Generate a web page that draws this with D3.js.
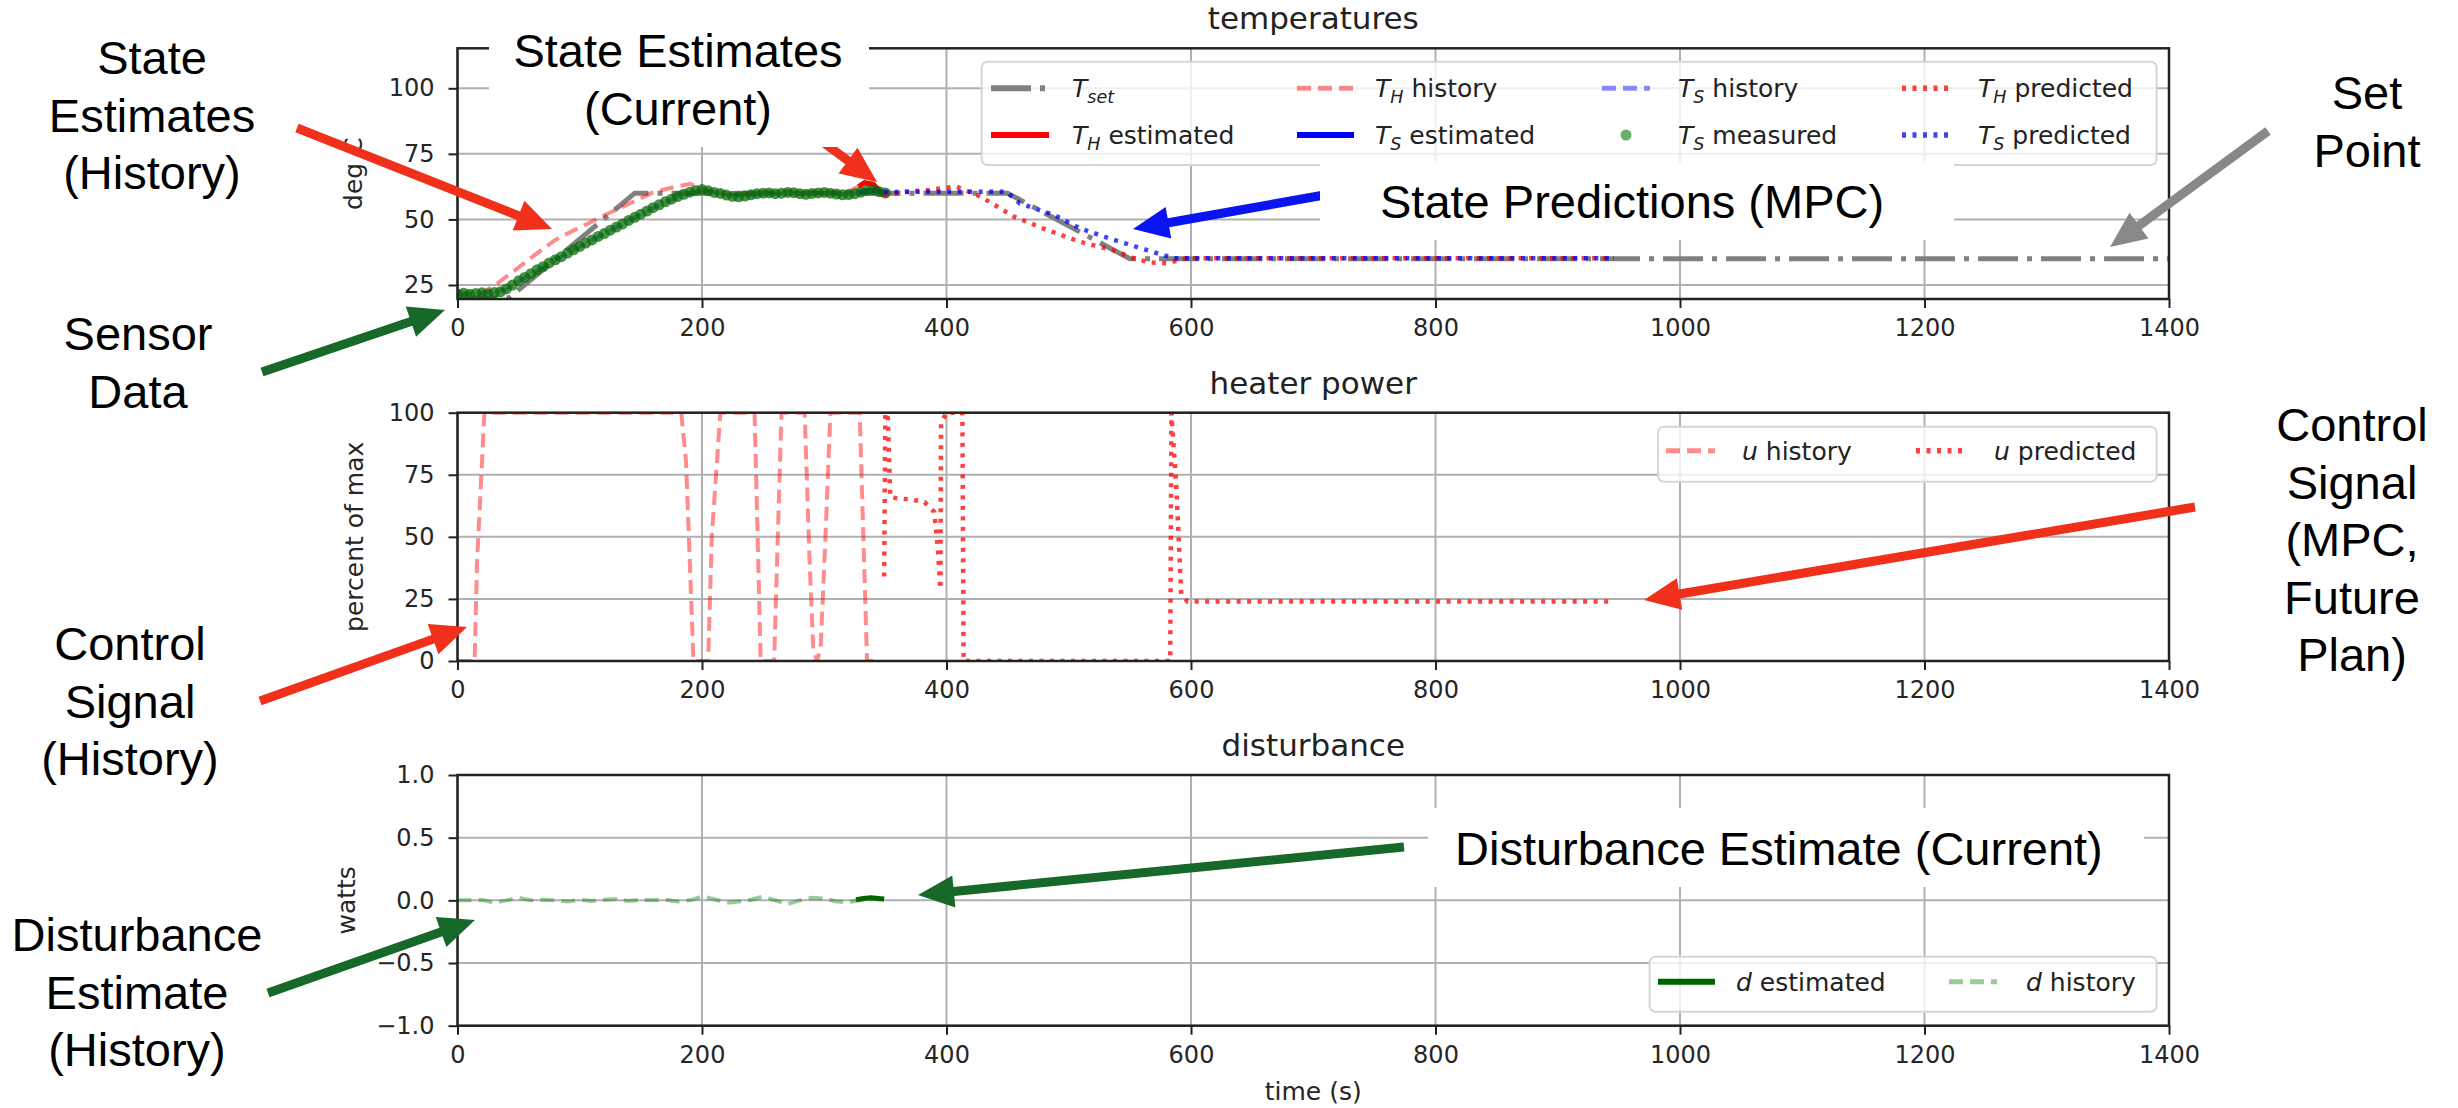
<!DOCTYPE html>
<html>
<head>
<meta charset="utf-8">
<script src="https://cdn.jsdelivr.net/npm/d3@7"></script>
<style>
body { margin: 0; background: #fff; }
svg text { white-space: pre; }
</style>
</head>
<body>
<div id="chart"></div>
<script>
// ---- data ----

var timeTicks = [0, 200, 400, 600, 800, 1000, 1200, 1400]
var tempTicks = [25, 50, 75, 100]
var powerTicks = [0, 25, 50, 75, 100]
var distTicks = [-1, -0.5, 0, 0.5, 1]

// temperatures
var tsetTime = [0, 42, 145, 450, 550, 1400]
var tsetVal  = [20, 20, 60, 60, 35, 35]

var thHistTime = [0, 10, 20, 30, 40, 50, 60, 70, 80, 90, 100, 110, 120, 130, 140, 150, 160, 170,
                  180, 190, 200, 210, 220, 230, 240, 250, 260, 270, 280, 290, 300, 310, 320, 328]
var thHistVal  = [21.5, 21.6, 22.0, 24.7, 28.2, 31.7, 35.3, 38.8, 42.2, 44.6, 46.9, 49.2, 51.6, 53.7, 55.9, 58.1, 60.3, 61.5,
                  62.6, 63.6, 61.8, 60.5, 59.8, 59.2, 59.8, 60.6, 60.2, 60.8, 60.1, 60.4, 60.8, 60.2, 60.6, 62.5]

var tsHistTime = [0, 20, 40, 60, 80, 100, 120, 140, 160, 180, 200, 220, 240, 260, 280, 300, 320, 340]
var tsHistVal  = [21.7, 21.8, 23.3, 29.2, 34.5, 39.6, 44.6, 49.5, 54.4, 58.6, 61.2, 59.3, 59.4, 59.9, 59.9, 60.2, 59.6, 61.0]

var thEstTime = [328, 333, 340, 345, 349]
var thEstVal  = [62.5, 64.0, 63.5, 61.0, 59.0]

var tsEstTime = [328, 335, 342, 349]
var tsEstVal  = [60.2, 60.9, 61.0, 60.4]

var tsMeasTime = [0, 5, 10, 15, 20, 25, 30, 35, 40, 45, 50, 55, 60, 65, 70, 75, 80, 85, 90, 95,
                  100, 105, 110, 115, 120, 125, 130, 135, 140, 145, 150, 155, 160, 165, 170, 175,
                  180, 185, 190, 195, 200, 205, 210, 215, 220, 225, 230, 235, 240, 245, 250, 255,
                  260, 265, 270, 275, 280, 285, 290, 295, 300, 305, 310, 315, 320, 325, 330, 335,
                  340, 345, 350]
var tsMeasVal  = [21.6, 21.9, 21.5, 21.8, 22.0, 21.7, 22.1, 22.4, 23.5, 25.0, 26.6, 27.9, 29.3, 30.8, 32.0, 33.4,
                  34.6, 35.8, 37.2, 38.4, 39.7, 41.0, 42.2, 43.5, 44.6, 45.9, 47.1, 48.3, 49.6, 50.8, 52.0, 53.2,
                  54.5, 55.6, 56.7, 57.7, 58.7, 59.6, 60.4, 61.0, 61.4, 60.9, 60.3, 59.9, 59.3, 58.8, 58.6, 58.9,
                  59.4, 59.8, 60.0, 60.1, 59.8, 60.0, 60.3, 60.2, 59.8, 59.6, 59.9, 60.1, 60.3, 60.0, 59.7, 59.4,
                  59.5, 59.8, 60.4, 61.0, 61.2, 60.6, 60.1]

var thPredTime = [349, 365, 385, 408, 428, 455, 482, 509, 536, 553, 566, 580, 596, 946]
var thPredVal  = [59.0, 60.5, 61.2, 62.5, 58.7, 51.1, 46.0, 41.5, 38.3, 35.2, 33.6, 33.3, 35.2, 35.2]

var tsPredTime = [349, 390, 449, 460, 488, 509, 537, 564, 586, 946]
var tsPredVal  = [60.4, 60.6, 60.6, 56.1, 51.7, 46.6, 42.2, 38.3, 35.2, 35.2]

// heater power
var uHistTime = [0, 14, 16, 22, 183, 187, 190, 193, 205, 208, 215, 243, 248, 259, 262, 265,
                 284, 288, 291, 294, 297, 301, 305, 329, 335, 345]
var uHistVal  = [0, 0, 40, 100, 100, 80, 40, 0, 0, 50, 100, 100, 0, 0, 50, 100,
                 100, 40, 5, 0, 5, 50, 100, 100, 0, 0]

var uPredTime = [349, 350, 352, 354, 360, 372, 382, 390, 393, 395, 395.5, 400, 413, 414,
                 583, 584, 588, 592, 597, 945]
var uPredVal  = [34, 100, 98, 66, 65.5, 65, 64, 60, 45, 29, 96, 100, 100, 0,
                 0, 100, 70, 27, 24, 24]

// disturbance
var dHistTime = [0, 10, 20, 30, 40, 50, 60, 70, 80, 90, 100, 110, 120, 130, 140, 150, 160, 170,
                 180, 190, 200, 210, 220, 230, 240, 250, 260, 270, 280, 290, 300, 310, 320, 330, 340]
var dHistVal  = [0, 0, 0.005, -0.02, 0, 0.02, 0, 0.005, 0, -0.01, 0.005, -0.005, 0.005, 0.01, -0.005, 0.005, 0, 0.005,
                 -0.01, 0, 0.03, 0.01, -0.02, -0.01, 0.005, 0.03, 0, -0.03, 0, 0.02, 0.015, -0.01, -0.015, 0.005, 0.01]

var dEstTime = [326, 332, 338, 344, 349]
var dEstVal  = [0.005, 0.015, 0.02, 0.015, 0.01]

// ---- layout ----

var W = 2458, H = 1108
var tickFont = 24
var legendFont = 25

var x = d3.scaleLinear().domain([0, 1400]).range([457.5, 2169])

var panels = [
  {top: 48.3, bottom: 299, domain: [19.66, 115.25], ticks: tempTicks, fmt: d3.format("d"),
   title: "temperatures", ylabel: "deg C", ylabelX: 362},
  {top: 412.7, bottom: 661, domain: [0, 100], ticks: powerTicks, fmt: d3.format("d"),
   title: "heater power", ylabel: "percent of max", ylabelX: 363},
  {top: 775, bottom: 1025.7, domain: [-1, 1], ticks: distTicks, fmt: d3.format(".1f"),
   title: "disturbance", ylabel: "watts", ylabelX: 355}
]

var styles = {
  tset:   {stroke: "#808080", width: 5, dash: "40,9,5,9", opacity: 1},
  thHist: {stroke: "#ff0000", width: 4, dash: "14,7", opacity: 0.45},
  tsHist: {stroke: "#0000ff", width: 4, dash: "14,7", opacity: 0.45},
  thEst:  {stroke: "#ff0000", width: 5, dash: null, opacity: 1},
  tsEst:  {stroke: "#0000ff", width: 5, dash: null, opacity: 1},
  thPred: {stroke: "#ff0000", width: 4.5, dash: "4,6.5", opacity: 0.75},
  tsPred: {stroke: "#0000ff", width: 4.5, dash: "4,6.5", opacity: 0.75},
  uHist:  {stroke: "#ff0000", width: 4, dash: "14,7", opacity: 0.45},
  uPred:  {stroke: "#ff0000", width: 4.5, dash: "4,6.5", opacity: 0.75},
  dHist:  {stroke: "#008000", width: 4, dash: "14,7", opacity: 0.4},
  dEst:   {stroke: "#006400", width: 5, dash: null, opacity: 1}
}

var svg = d3.select("#chart")
  .append("svg")
    .attr("width", W)
    .attr("height", H)
    .attr("font-family", "'DejaVu Sans', sans-serif")

svg.append("rect").attr("width", W).attr("height", H).attr("fill", "#fff")

function drawPanel(p, i) {
  var y = d3.scaleLinear().domain(p.domain).range([p.bottom, p.top])
  var g = svg.append("g").attr("class", "panel" + i)

  g.append("clipPath").attr("id", "clip" + i)
    .append("rect")
      .attr("x", x.range()[0]).attr("y", p.top + 1)
      .attr("width", x.range()[1] - x.range()[0]).attr("height", p.bottom - p.top - 1)

  // grid
  g.selectAll(".vgrid").data(timeTicks).enter().append("line")
    .attr("x1", function(d) { return x(d) }).attr("x2", function(d) { return x(d) })
    .attr("y1", p.top).attr("y2", p.bottom)
    .attr("stroke", "#b0b0b0").attr("stroke-width", 2)
  g.selectAll(".hgrid").data(p.ticks).enter().append("line")
    .attr("x1", x.range()[0]).attr("x2", x.range()[1])
    .attr("y1", function(d) { return y(d) }).attr("y2", function(d) { return y(d) })
    .attr("stroke", "#b0b0b0").attr("stroke-width", 2)

  // axes
  var xAxis = d3.axisBottom(x).tickValues(timeTicks).tickSize(9).tickPadding(11).tickFormat(d3.format("d"))
  var yAxis = d3.axisLeft(y).tickValues(p.ticks).tickSize(9).tickPadding(14).tickFormat(p.fmt)

  var gx = g.append("g").attr("transform", "translate(0," + p.bottom + ")").call(xAxis)
  var gy = g.append("g").attr("transform", "translate(" + x.range()[0] + ",0)").call(yAxis)
  ;[gx, gy].forEach(function(a) {
    a.select(".domain").remove()
    a.attr("font-size", tickFont).attr("font-family", "'DejaVu Sans', sans-serif")
    a.selectAll(".tick line").attr("stroke", "#222").attr("stroke-width", 2)
    a.selectAll(".tick text").attr("fill", "#262626")
  })

  g.append("text")
    .attr("x", (x.range()[0] + x.range()[1]) / 2)
    .attr("y", p.top - 19)
    .attr("text-anchor", "middle")
    .attr("font-size", 31)
    .attr("fill", "#222")
    .text(p.title)

  g.append("text")
    .attr("transform", "translate(" + p.ylabelX + "," + (p.top + p.bottom) / 2 + ") rotate(-90)")
    .attr("text-anchor", "middle")
    .attr("font-size", 25)
    .attr("fill", "#262626")
    .text(p.ylabel)

  var plot = g.append("g").attr("clip-path", "url(#clip" + i + ")")
  return {g: g, plot: plot, y: y, p: p}
}

function drawLine(panel, times, vals, st) {
  var line = d3.line()
    .x(function(d) { return x(d[0]) })
    .y(function(d) { return panel.y(d[1]) })
  panel.plot.append("path")
    .datum(d3.zip(times, vals))
    .attr("d", line)
    .attr("fill", "none")
    .attr("stroke", st.stroke)
    .attr("stroke-width", st.width)
    .attr("stroke-opacity", st.opacity)
    .attr("stroke-dasharray", st.dash)
}

function drawFrame(panel) {
  panel.g.append("rect")
    .attr("x", x.range()[0]).attr("y", panel.p.top)
    .attr("width", x.range()[1] - x.range()[0]).attr("height", panel.p.bottom - panel.p.top)
    .attr("fill", "none").attr("stroke", "#222").attr("stroke-width", 2.5)
}

var P = panels.map(drawPanel)

// temperatures
drawLine(P[0], tsetTime, tsetVal, styles.tset)
drawLine(P[0], thEstTime, thEstVal, styles.thEst)
drawLine(P[0], thHistTime, thHistVal, styles.thHist)
drawLine(P[0], tsEstTime, tsEstVal, styles.tsEst)
drawLine(P[0], tsHistTime, tsHistVal, styles.tsHist)
P[0].plot.selectAll(".meas").data(d3.zip(tsMeasTime, tsMeasVal)).enter().append("circle")
  .attr("cx", function(d) { return x(d[0]) })
  .attr("cy", function(d) { return P[0].y(d[1]) })
  .attr("r", 5.5)
  .attr("fill", "#0a6e0a")
  .attr("fill-opacity", 0.75)
drawLine(P[0], thPredTime, thPredVal, styles.thPred)
drawLine(P[0], tsPredTime, tsPredVal, styles.tsPred)

// heater power
drawLine(P[1], uHistTime, uHistVal, styles.uHist)
drawLine(P[1], uPredTime, uPredVal, styles.uPred)

// disturbance
drawLine(P[2], dEstTime, dEstVal, styles.dEst)
drawLine(P[2], dHistTime, dHistVal, styles.dHist)

P.forEach(drawFrame)

svg.append("text")
  .attr("x", (x.range()[0] + x.range()[1]) / 2)
  .attr("y", 1100)
  .attr("text-anchor", "middle")
  .attr("font-size", 25)
  .attr("fill", "#262626")
  .text("time (s)")

// ---- legends ----

var tempLabels = ["$T_{set}$", "$T_H$ estimated", "$T_H$ history", "$T_S$ estimated",
                  "$T_S$ history", "$T_S$ measured", "$T_H$ predicted", "$T_S$ predicted"]
var tempKeys = ["tset", "thEst", "thHist", "tsEst", "tsHist", "marker", "thPred", "tsPred"]
var powerLabels = ["$u$ history", "$u$ predicted"]
var powerKeys = ["uHist", "uPred"]
var distLabels = ["$d$ estimated", "$d$ history"]
var distKeys = ["dEst", "dHist"]

var legends = [
  {box: [981.6, 61.7, 1175, 103.3], rows: [88.3, 135],
   handles: [[991, 1049], [1297, 1354], [1602, 1650], [1902, 1949]],
   textX: [1072, 1375, 1678, 1978], labels: tempLabels, keys: tempKeys},
  {box: [1658, 426.7, 498.6, 55], rows: [450.7],
   handles: [[1666, 1715], [1916, 1965]], textX: [1742, 1994], labels: powerLabels, keys: powerKeys},
  {box: [1649.6, 956.7, 507, 55], rows: [981.7],
   handles: [[1658, 1715], [1949, 1997]], textX: [1736, 2026], labels: distLabels, keys: distKeys}
]

function addLabel(sel, label) {
  var m = label.match(/^\$(\w)(?:_\{?(\w+)\}?)?\$(.*)$/)
  sel.append("tspan").attr("font-style", "italic").text(m[1])
  if (m[2]) {
    sel.append("tspan").attr("font-style", "italic").attr("font-size", legendFont * 0.7)
      .attr("dy", legendFont * 0.22).text(m[2])
    sel.append("tspan").attr("dy", -legendFont * 0.22).text(m[3])
  } else {
    sel.append("tspan").text(m[3])
  }
}

legends.forEach(function(L) {
  var g = svg.append("g")
  g.append("rect")
    .attr("x", L.box[0]).attr("y", L.box[1]).attr("width", L.box[2]).attr("height", L.box[3])
    .attr("rx", 6)
    .attr("fill", "#fff").attr("fill-opacity", 0.8)
    .attr("stroke", "#d6d6d6").attr("stroke-width", 2)
  var nr = L.rows.length
  L.labels.forEach(function(lab, k) {
    var col = Math.floor(k / nr), row = k % nr
    var cy = L.rows[row]
    var h = L.handles[col]
    var key = L.keys[k]
    if (key == "marker") {
      g.append("circle").attr("cx", (h[0] + h[1]) / 2).attr("cy", cy).attr("r", 5.5)
        .attr("fill", "#008000").attr("fill-opacity", 0.6)
    } else {
      var st = styles[key]
      g.append("line").attr("x1", h[0]).attr("x2", h[1]).attr("y1", cy).attr("y2", cy)
        .attr("stroke", st.stroke).attr("stroke-width", st.width + 1)
        .attr("stroke-opacity", st.opacity).attr("stroke-dasharray", st.dash)
    }
    var t = g.append("text")
      .attr("x", L.textX[col]).attr("y", cy + legendFont * 0.36)
      .attr("font-size", legendFont).attr("fill", "#222")
    addLabel(t, lab)
  })
})

// ---- callouts laid over the figure ----

var noteFont = 47
var noteLine = 57.5

var arrows = [
  {from: [297, 128], to: [552, 229], color: "#f0301a"},
  {from: [262, 372], to: [445, 310], color: "#17692a"},
  {from: [790, 118], to: [877, 182], color: "#f0301a"},
  {from: [1330, 194], to: [1133, 229], color: "#0a14f0"},
  {from: [2268, 131], to: [2110, 247], color: "#888888"},
  {from: [2195, 507], to: [1644, 600], color: "#f0301a"},
  {from: [260, 701], to: [467, 627], color: "#f0301a"},
  {from: [268, 993], to: [475, 920], color: "#17692a"},
  {from: [1404, 847], to: [918, 895], color: "#17692a"}
]

var boxes = [
  {rect: [489, 0, 380, 147], lines: ["State Estimates", "(Current)"], x: 678, y: 67, anchor: "middle"},
  {rect: [1320, 163, 634, 77], lines: ["State Predictions (MPC)"], x: 1380, y: 218, anchor: "start"},
  {rect: [1428, 808, 716, 79], lines: ["Disturbance Estimate (Current)"], x: 1455, y: 865, anchor: "start"}
]

var notes = [
  {lines: ["State", "Estimates", "(History)"], x: 152, y: 74},
  {lines: ["Sensor", "Data"], x: 138, y: 350},
  {lines: ["Control", "Signal", "(History)"], x: 130, y: 660},
  {lines: ["Disturbance", "Estimate", "(History)"], x: 137, y: 951},
  {lines: ["Set", "Point"], x: 2367, y: 109},
  {lines: ["Control", "Signal", "(MPC,", "Future", "Plan)"], x: 2352, y: 441}
]

function arrowPoints(a) {
  var dx = a.to[0] - a.from[0], dy = a.to[1] - a.from[1]
  var len = Math.sqrt(dx * dx + dy * dy)
  var ux = dx / len, uy = dy / len
  var px = -uy, py = ux
  var shaft = 9, headLen = 36, headW = 32
  var bx = a.to[0] - ux * headLen, by = a.to[1] - uy * headLen
  var pts = [
    [a.from[0] + px * shaft / 2, a.from[1] + py * shaft / 2],
    [bx + px * shaft / 2, by + py * shaft / 2],
    [bx + px * headW / 2, by + py * headW / 2],
    a.to,
    [bx - px * headW / 2, by - py * headW / 2],
    [bx - px * shaft / 2, by - py * shaft / 2],
    [a.from[0] - px * shaft / 2, a.from[1] - py * shaft / 2]
  ]
  return pts.map(function(p) { return p.join(",") }).join(" ")
}

var ann = svg.append("g").attr("font-family", "'Liberation Sans', Arial, sans-serif")

ann.selectAll("polygon").data(arrows).enter().append("polygon")
  .attr("points", arrowPoints)
  .attr("fill", function(d) { return d.color })

function writeLines(g, d, anchor) {
  var t = g.append("text")
    .attr("x", d.x).attr("y", d.y)
    .attr("text-anchor", anchor)
    .attr("font-size", noteFont)
    .attr("fill", "#000")
  d.lines.forEach(function(s, k) {
    t.append("tspan").attr("x", d.x).attr("y", d.y + k * noteLine).text(s)
  })
}

boxes.forEach(function(b) {
  ann.append("rect")
    .attr("x", b.rect[0]).attr("y", b.rect[1]).attr("width", b.rect[2]).attr("height", b.rect[3])
    .attr("fill", "#fff")
  writeLines(ann, b, b.anchor)
})

notes.forEach(function(n) { writeLines(ann, n, "middle") })
</script>
</body>
</html>
